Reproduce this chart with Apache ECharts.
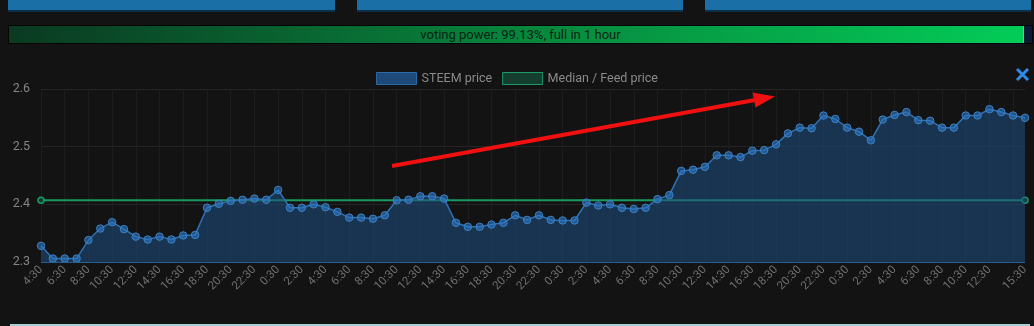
<!DOCTYPE html>
<html>
<head>
<meta charset="utf-8">
<script src="https://cdn.jsdelivr.net/npm/echarts@6/dist/echarts.min.js"></script>
<style>
  html, body { margin: 0; padding: 0; background: #131313; width: 1034px; height: 326px; overflow: hidden; font-family: Roboto, "Liberation Sans", Arial, sans-serif; }
  #chart { position: absolute; left: 0; top: 0; width: 1034px; height: 326px; }
  .btn { position: absolute; top: 0; height: 10px; background: #1a6fa6; border-bottom: 2px solid #0d2e47; }
  #vp { position: absolute; left: 8px; top: 25px; width: 1023px; height: 17px; border: 1px solid #050505; background: #0b1a33; }
  #vpfill { position: absolute; left: 0; top: 0; height: 17px; width: 99.13%; background: linear-gradient(to right, #0a3a22 0%, #08853c 50%, #03cc58 100%); border-right: 1px solid #9aa; }
  #vptext { position: absolute; left: 0; top: 0; width: 100%; height: 17px; line-height: 17px; text-align: center; font-size: 13px; color: #0a2413; }
  #bottomline { position: absolute; left: 10px; top: 324px; width: 1020px; height: 2px; background: #a6d0d4; }
</style>
</head>
<body>
<div id="chart"></div>
<div class="btn" style="left:8px;width:327px"></div>
<div class="btn" style="left:357px;width:326px"></div>
<div class="btn" style="left:705px;width:326px"></div>
<div id="vp"><div id="vpfill"></div><div id="vptext">voting power: 99.13%, full in 1 hour</div></div>
<div id="bottomline"></div>
<script>
const hours = [
  "4:30","5:30","6:30","7:30","8:30","9:30","10:30","11:30","12:30","13:30","14:30","15:30","16:30","17:30","18:30","19:30","20:30","21:30","22:30","23:30",
  "0:30","1:30","2:30","3:30","4:30","5:30","6:30","7:30","8:30","9:30","10:30","11:30","12:30","13:30","14:30","15:30","16:30","17:30","18:30","19:30","20:30","21:30","22:30","23:30",
  "0:30","1:30","2:30","3:30","4:30","5:30","6:30","7:30","8:30","9:30","10:30","11:30","12:30","13:30","14:30","15:30","16:30","17:30","18:30","19:30","20:30","21:30","22:30","23:30",
  "0:30","1:30","2:30","3:30","4:30","5:30","6:30","7:30","8:30","9:30","10:30","11:30","12:30","13:30","14:30","15:30"
];

const steemPrice = [
  2.328, 2.306, 2.306, 2.306, 2.338, 2.358, 2.369, 2.357, 2.344, 2.339,
  2.344, 2.339, 2.346, 2.347, 2.394, 2.401, 2.406, 2.408, 2.410, 2.408,
  2.425, 2.394, 2.394, 2.400, 2.395, 2.387, 2.377, 2.377, 2.375, 2.381,
  2.407, 2.408, 2.414, 2.414, 2.410, 2.368, 2.361, 2.361, 2.365, 2.368,
  2.381, 2.373, 2.381, 2.373, 2.372, 2.372, 2.403, 2.398, 2.400, 2.394,
  2.392, 2.394, 2.409, 2.416, 2.458, 2.460, 2.465, 2.485, 2.485, 2.482,
  2.493, 2.494, 2.504, 2.523, 2.533, 2.532, 2.554, 2.548, 2.533, 2.526,
  2.511, 2.547, 2.555, 2.560, 2.546, 2.545, 2.533, 2.533, 2.554, 2.554,
  2.565, 2.560, 2.554, 2.550
];

const medianPrice = [
  2.407, 2.407, 2.407, 2.407, 2.407, 2.407, 2.407, 2.407, 2.407, 2.407,
  2.407, 2.407, 2.407, 2.407, 2.407, 2.407, 2.407, 2.407, 2.407, 2.407,
  2.407, 2.407, 2.407, 2.407, 2.407, 2.407, 2.407, 2.407, 2.407, 2.407,
  2.407, 2.407, 2.407, 2.407, 2.407, 2.407, 2.407, 2.407, 2.407, 2.407,
  2.407, 2.407, 2.407, 2.407, 2.407, 2.407, 2.407, 2.407, 2.407, 2.407,
  2.407, 2.407, 2.407, 2.407, 2.407, 2.407, 2.407, 2.407, 2.407, 2.407,
  2.407, 2.407, 2.407, 2.407, 2.407, 2.407, 2.407, 2.407, 2.407, 2.407,
  2.407, 2.407, 2.407, 2.407, 2.407, 2.407, 2.407, 2.407, 2.407, 2.407,
  2.407, 2.407, 2.407, 2.407
];

const yTicks = { min: 2.3, max: 2.6, interval: 0.1 };

const last = hours.length - 1;
function showLabel(i) {
  if (i === last) return true;
  if (i === last - 1) return false;
  return i % 2 === 0;
}

const chart = echarts.init(document.getElementById('chart'), null, { renderer: 'canvas' });
chart.setOption({
  backgroundColor: 'transparent',
  animation: false,
  textStyle: { fontFamily: 'Roboto, "Liberation Sans", Arial, sans-serif' },
  legend: {
    top: 67,
    left: 'center',
    itemWidth: 40,
    itemHeight: 12,
    itemGap: 10,
    icon: 'rect',
    textStyle: { color: '#8a8a8a', fontSize: 12.5 },
    data: [
      { name: 'STEEM price', itemStyle: { color: '#1d4a79', borderColor: '#2d6aa8', borderWidth: 1 } },
      { name: 'Median / Feed price', itemStyle: { color: '#153e31', borderColor: '#1c9a68', borderWidth: 1 } }
    ]
  },
  grid: { left: 41, right: 9, top: 89, bottom: 64, containLabel: false },
  xAxis: {
    type: 'category',
    data: hours,
    boundaryGap: false,
    axisLine: { show: false },
    axisTick: { show: false },
    axisLabel: {
      rotate: 45,
      margin: 6,
      color: '#6f6f6f',
      fontSize: 11.5,
      interval: (i) => showLabel(i)
    },
    splitLine: { show: true, interval: (i) => i % 2 === 0, lineStyle: { color: '#1d1d1d', width: 1 } }
  },
  yAxis: {
    type: 'value',
    min: yTicks.min,
    max: yTicks.max,
    interval: yTicks.interval,
    axisLine: { show: false },
    axisTick: { show: false },
    axisLabel: { color: '#858585', fontSize: 12.5, margin: 11, formatter: (v) => v.toFixed(1) },
    splitLine: { lineStyle: { color: '#242424', width: 1 } }
  },
  series: [
    {
      name: 'Median / Feed price',
      type: 'line',
      data: medianPrice,
      z: 1,
      showSymbol: true,
      symbol: (v, p) => (p.dataIndex === 0 || p.dataIndex === last) ? 'circle' : 'none',
      symbolSize: 6,
      itemStyle: { color: '#143b2e', borderColor: '#1c9a68', borderWidth: 1.5 },
      lineStyle: { color: '#1a9a62', width: 2 }
    },
    {
      name: 'STEEM price',
      type: 'line',
      data: steemPrice,
      z: 2,
      showSymbol: true,
      symbol: 'circle',
      symbolSize: 7.5,
      itemStyle: { color: 'rgba(45,118,195,0.6)', borderColor: '#3d82c6', borderWidth: 1 },
      lineStyle: { color: '#2f72b4', width: 1.5 },
      areaStyle: { color: 'rgba(29,78,128,0.8)', origin: 'start' },
      markLine: {
        silent: true,
        symbol: ['none', 'none'],
        label: { show: false },
        lineStyle: { color: '#2a5d8c', width: 1, type: 'solid' },
        data: [{ yAxis: yTicks.min }]
      }
    }
  ],
  graphic: [
    {
      type: 'line',
      shape: { x1: 392, y1: 166, x2: 755, y2: 100 },
      style: { stroke: '#f01010', lineWidth: 4 },
      z: 100
    },
    {
      type: 'polygon',
      shape: { points: [[775, 96.5], [755.5, 107.5], [752.5, 92.5]] },
      style: { fill: '#f01010' },
      z: 100
    },
    {
      type: 'line',
      shape: { x1: 1017, y1: 69, x2: 1028, y2: 80 },
      style: { stroke: '#2f8ae8', lineWidth: 3 },
      z: 100
    },
    {
      type: 'line',
      shape: { x1: 1028, y1: 69, x2: 1017, y2: 80 },
      style: { stroke: '#2f8ae8', lineWidth: 3 },
      z: 100
    }
  ]
});
</script>
</body>
</html>
